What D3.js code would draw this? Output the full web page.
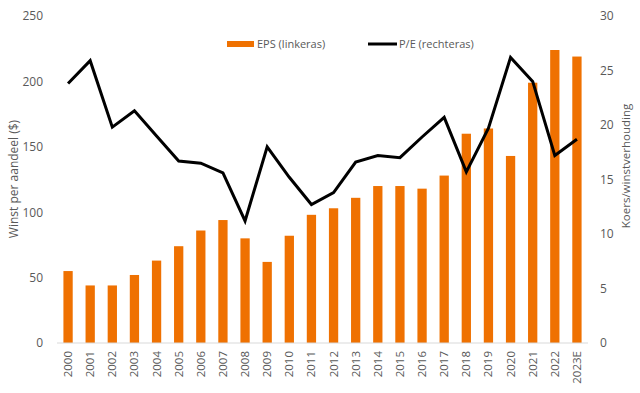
<!DOCTYPE html>
<html>
<head>
<meta charset="utf-8">
<script src="https://cdn.jsdelivr.net/npm/d3@7"></script>
<style>
  body { margin: 0; background: #fff; }
  text { font-family: "Open Sans", sans-serif; fill: #595959; }
</style>
</head>
<body>
<div id="chart"></div>
<script>
const years = ["2000","2001","2002","2003","2004","2005","2006","2007","2008","2009","2010","2011",
               "2012","2013","2014","2015","2016","2017","2018","2019","2020","2021","2022","2023E"];
const eps = [55, 44, 44, 52, 63, 74, 86, 94, 80, 62, 82, 98,
             103, 111, 120, 120, 118, 128, 160, 164, 143, 199, 224, 219];
const pe = [23.8, 25.9, 19.8, 21.3, 19.0, 16.7, 16.5, 15.6, 11.2, 18.0, 15.2, 12.7,
            13.8, 16.6, 17.2, 17.0, 18.9, 20.7, 15.7, 19.7, 26.2, 24.0, 17.2, 18.7];
const leftTicks = [0, 50, 100, 150, 200, 250];
const rightTicks = [0, 5, 10, 15, 20, 25, 30];

const width = 640, height = 393;
const margin = { top: 16, right: 52, bottom: 50, left: 57 };
const orange = "#ef7101";

const svg = d3.select("#chart").append("svg")
    .attr("width", width)
    .attr("height", height);

const x = d3.scaleBand()
    .domain(years)
    .range([margin.left, width - margin.right])
    .paddingInner(0.58)
    .paddingOuter(0.29);

const yLeft = d3.scaleLinear().domain([0, 250]).range([height - margin.bottom, margin.top]);
const yRight = d3.scaleLinear().domain([0, 30]).range([height - margin.bottom, margin.top]);

// bars
svg.append("g")
    .selectAll("rect")
    .data(eps)
    .enter().append("rect")
    .attr("x", (d, i) => x(years[i]))
    .attr("y", d => yLeft(d))
    .attr("width", x.bandwidth())
    .attr("height", d => yLeft(0) - yLeft(d))
    .attr("fill", orange);

// x axis line
svg.append("line")
    .attr("x1", margin.left).attr("x2", width - margin.right)
    .attr("y1", yLeft(0)).attr("y2", yLeft(0))
    .attr("stroke", "#d9d9d9").attr("stroke-width", 1);

// x labels
svg.append("g")
    .selectAll("text")
    .data(years)
    .enter().append("text")
    .attr("transform", d => `translate(${x(d) + x.bandwidth() / 2 + 4},${yLeft(0) + 8}) rotate(-90)`)
    .attr("text-anchor", "end")
    .style("font-size", "11.5px")
    .text(d => d);

// line
const line = d3.line()
    .x((d, i) => x(years[i]) + x.bandwidth() / 2)
    .y(d => yRight(d));

svg.append("path")
    .datum(pe)
    .attr("d", line)
    .attr("fill", "none")
    .attr("stroke", "#000")
    .attr("stroke-width", 3)
    .attr("stroke-linejoin", "miter");

// left axis
const leftAxis = d3.axisLeft(yLeft).tickValues(leftTicks).tickSize(0).tickPadding(14);
svg.append("g")
    .attr("transform", `translate(${margin.left},0)`)
    .call(leftAxis)
    .call(g => g.select(".domain").remove())
    .call(g => g.selectAll("text").style("font-size", "12px").attr("fill", "#595959"));

// right axis
const rightAxis = d3.axisRight(yRight).tickValues(rightTicks).tickSize(0).tickPadding(12);
svg.append("g")
    .attr("transform", `translate(${width - margin.right},0)`)
    .call(rightAxis)
    .call(g => g.select(".domain").remove())
    .call(g => g.selectAll("text").style("font-size", "12px").attr("fill", "#595959"));

// axis titles
svg.append("text")
    .attr("transform", "translate(18,179) rotate(-90)")
    .attr("text-anchor", "middle")
    .style("font-size", "12px")
    .text("Winst per aandeel ($)");

svg.append("text")
    .attr("transform", "translate(630,166) rotate(-90)")
    .attr("text-anchor", "middle")
    .style("font-size", "11.5px")
    .text("Koers/winstverhouding");

// legend
const legend = svg.append("g");
legend.append("rect")
    .attr("x", 227).attr("y", 41).attr("width", 27).attr("height", 6)
    .attr("fill", orange);
legend.append("text")
    .attr("x", 257).attr("y", 47.5)
    .style("font-size", "11px")
    .text("EPS (linkeras)");
legend.append("line")
    .attr("x1", 368).attr("x2", 397).attr("y1", 44).attr("y2", 44)
    .attr("stroke", "#000").attr("stroke-width", 3);
legend.append("text")
    .attr("x", 399).attr("y", 47.5)
    .style("font-size", "11px")
    .text("P/E (rechteras)");
</script>
</body>
</html>
